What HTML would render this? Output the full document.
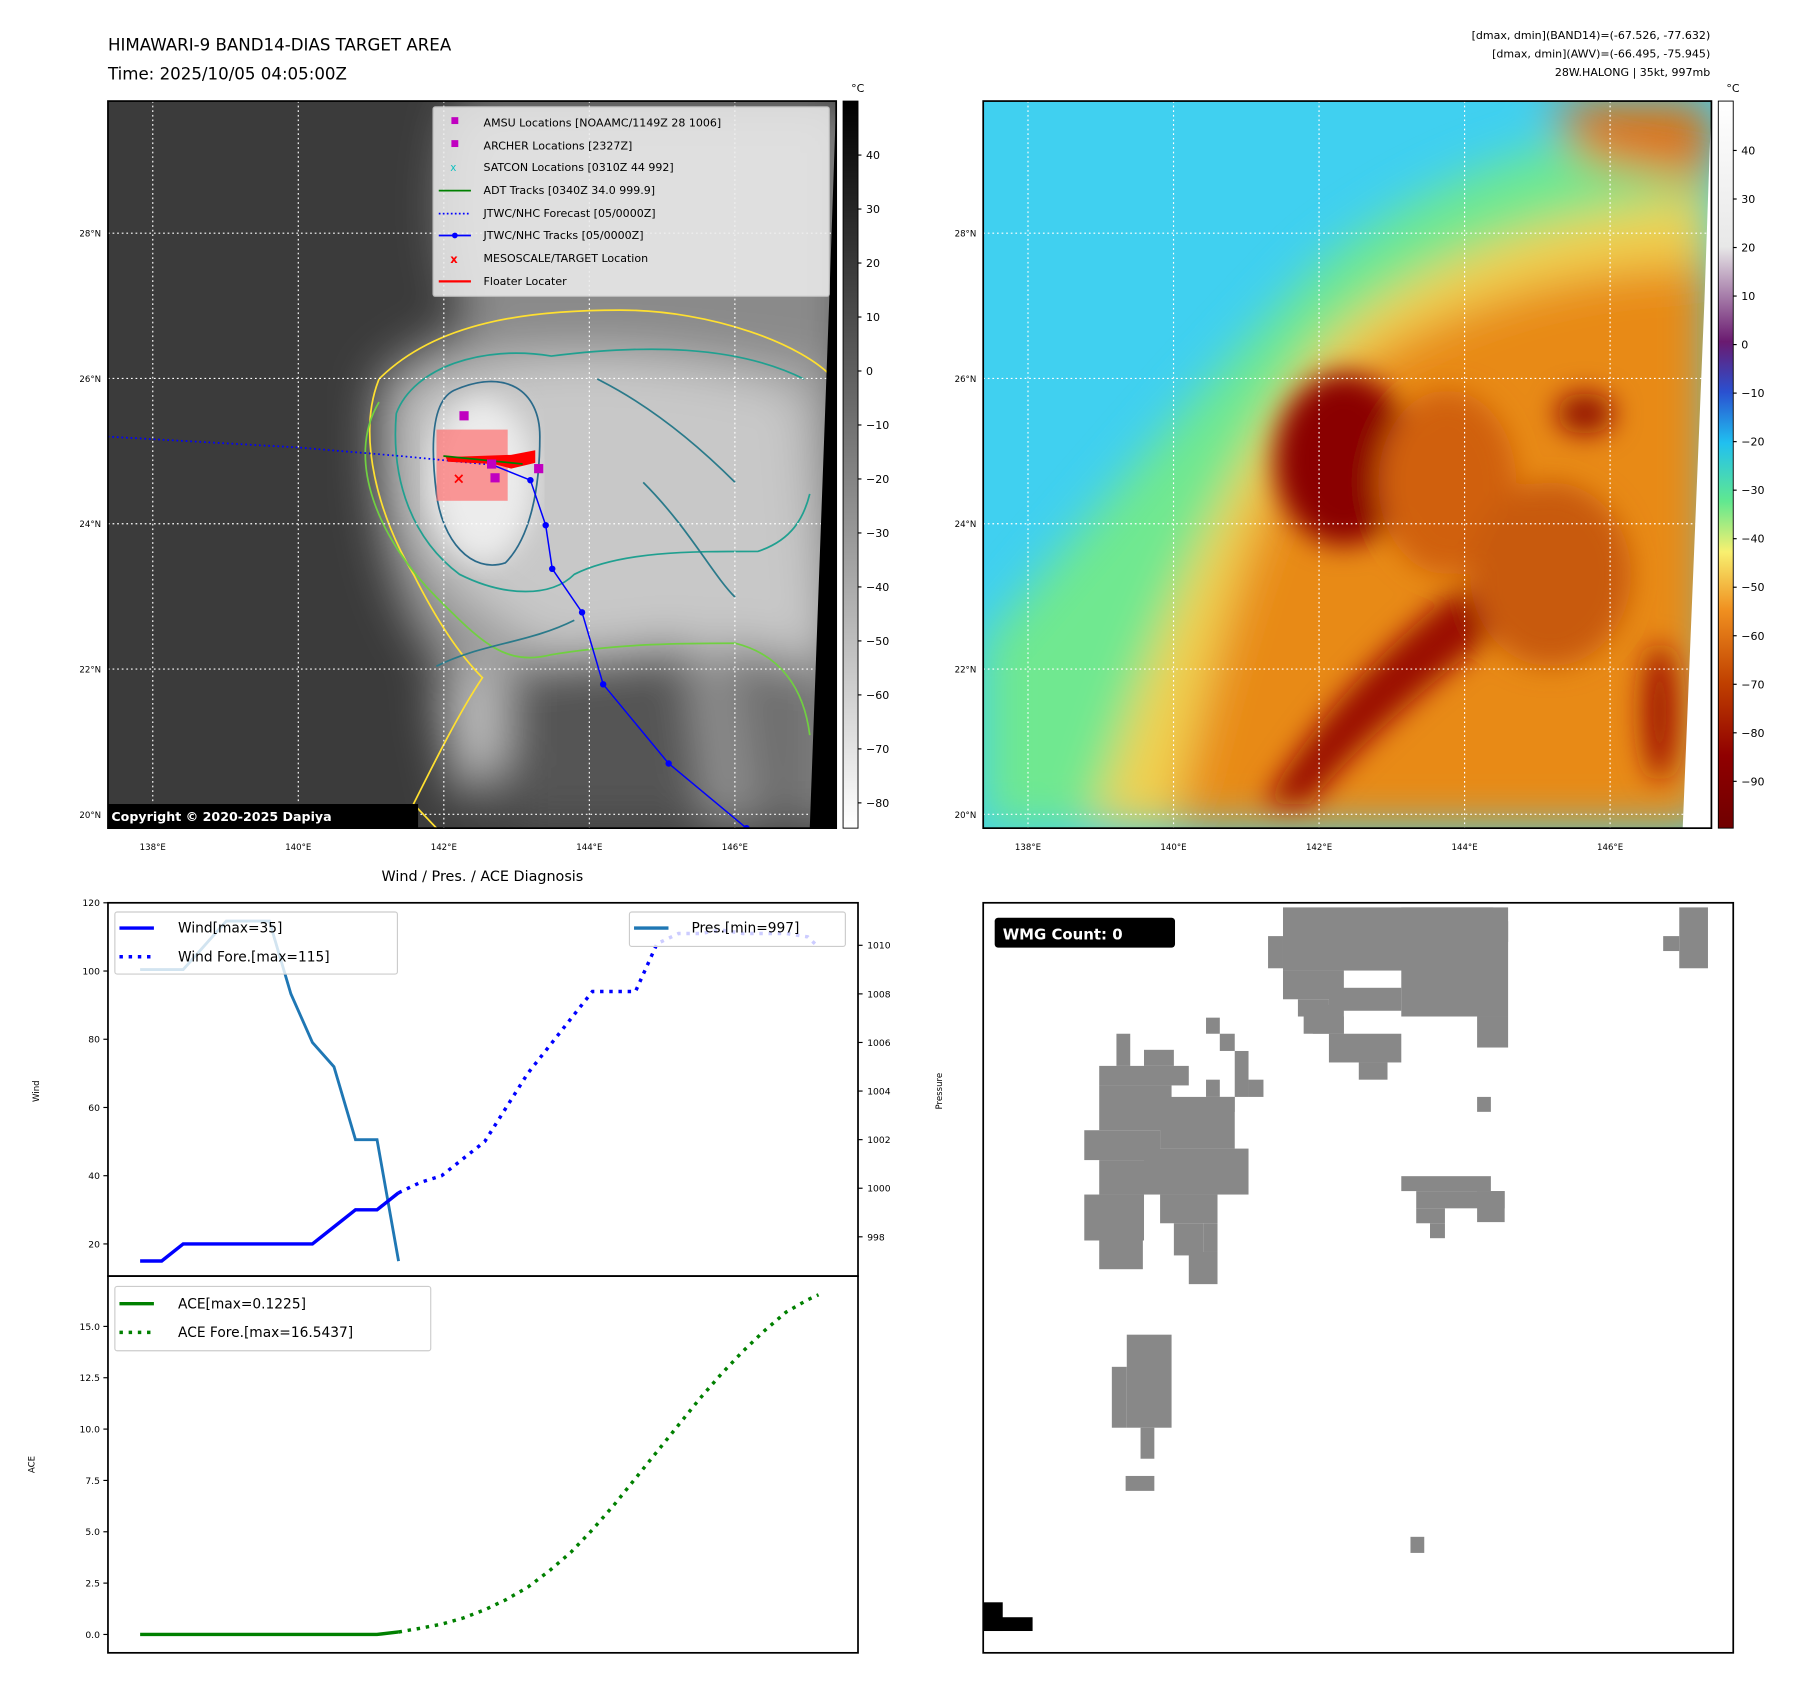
<!DOCTYPE html>
<html><head><meta charset="utf-8"><style>
html,body{margin:0;padding:0;background:#fff;}
svg{display:block;font-family:"DejaVu Sans","Liberation Sans",sans-serif;}
</style></head><body>
<svg id="root" width="1801" height="1690" viewBox="0 0 1801 1690" xmlns="http://www.w3.org/2000/svg">
<defs>
<filter id="blur12"><feGaussianBlur stdDeviation="12"/></filter>
<filter id="blur20"><feGaussianBlur stdDeviation="20"/></filter>
<linearGradient id="cbGray" x1="0" y1="0" x2="0" y2="1"><stop offset="0" stop-color="#000"/><stop offset="1" stop-color="#fff"/></linearGradient>
<linearGradient id="cbJet" x1="0" y1="0" x2="0" y2="1">
<stop offset="0" stop-color="#ffffff"/><stop offset="0.20" stop-color="#e8e8e8"/>
<stop offset="0.331" stop-color="#6a1a70"/><stop offset="0.40" stop-color="#2a50d0"/>
<stop offset="0.47" stop-color="#20c0f0"/><stop offset="0.55" stop-color="#60e890"/>
<stop offset="0.62" stop-color="#f8f070"/><stop offset="0.70" stop-color="#f09020"/>
<stop offset="0.80" stop-color="#c04000"/><stop offset="0.90" stop-color="#900000"/><stop offset="1" stop-color="#700000"/></linearGradient>
<clipPath id="clipL"><rect x="94" y="88" width="634" height="633"/></clipPath>
<clipPath id="clipR"><rect x="856" y="88" width="634" height="633"/></clipPath>
<clipPath id="clipW"><rect x="94" y="786" width="653" height="325"/></clipPath>
</defs>
<g id="main" transform="scale(1.1486)">
<text x="94" y="44" font-size="14.5" fill="#000">HIMAWARI-9 BAND14-DIAS TARGET AREA</text>
<text x="94" y="69" font-size="14.5" fill="#000">Time: 2025/10/05 04:05:00Z</text>
<g font-size="9.6" text-anchor="end" fill="#000">
<text x="1489" y="34">[dmax, dmin](BAND14)=(-67.526, -77.632)</text>
<text x="1489" y="50">[dmax, dmin](AWV)=(-66.495, -75.945)</text>
<text x="1489" y="66">28W.HALONG | 35kt, 997mb</text>
</g>

<g clip-path="url(#clipL)">
<rect x="94" y="88" width="634" height="633" fill="#3b3b3b"/>
<g filter="url(#blur20)">
<path d="M330,330 C420,250 560,260 680,300 L740,300 L740,721 L560,721 C500,650 420,640 370,560 C330,500 320,400 330,330Z" fill="#9a9a9a"/>
<path d="M400,90 L740,90 L740,320 C640,300 520,300 420,300 C380,250 380,150 400,90Z" fill="#8a8a8a"/>
<path d="M350,350 C420,300 560,300 700,340 L720,600 C640,560 580,560 520,580 C460,560 380,520 350,440Z" fill="#c8c8c8"/>
<path d="M380,600 C420,580 470,560 520,560 L470,640 L400,700Z" fill="#bbbbbb"/>
<path d="M440,580 L600,560 L620,721 L440,721Z" fill="#555"/>
<path d="M630,560 L720,580 L720,721 L650,721Z" fill="#707070"/>
</g>
<ellipse cx="420" cy="418" rx="45" ry="72" fill="#ececec" filter="url(#blur12)"/>
<g fill="none" stroke-width="1.5">
<path d="M330,330 C380,280 460,270 540,270 C620,270 700,300 726,330 M330,330 C310,380 330,450 360,500 C380,540 400,570 420,590 C400,620 380,660 360,700 L380,721" stroke="#ffe030"/>
<path d="M330,350 C300,400 330,470 380,520 C420,560 440,580 480,570 C540,560 600,560 640,560 C680,570 700,600 705,640" stroke="#70d040"/>
<path d="M345,360 C340,420 360,470 400,500 C440,520 480,520 500,500 C540,480 600,480 660,480 C690,470 700,450 705,430 M345,360 C360,320 420,300 480,310 C560,300 640,300 700,330" stroke="#20a090"/>
<path d="M395,340 C440,320 470,340 470,380 C470,430 460,470 440,490 C410,500 385,470 380,430 C375,390 375,350 395,340Z" stroke="#2a6a8a"/>
<path d="M380,580 C420,560 460,560 500,540 M520,330 C560,350 600,380 640,420 M560,420 C600,460 620,500 640,520" stroke="#2a7a8a"/>
</g>
<g stroke="#fff" stroke-width="1" stroke-dasharray="1.5,2.5" id="gridL"></g>
<rect x="380" y="374" width="62" height="62" fill="#ff7070" opacity="0.7"/>
<g id="trackL"></g>
<path d="M705,721 L722,260 L728,88 L728,721Z" fill="#000"/>
</g>
<rect x="94" y="88" width="634" height="633" fill="none" stroke="#000" stroke-width="1.5"/>
<g>
<rect x="377" y="93" width="345" height="165" fill="#eee" opacity="0.85" stroke="#ccc" rx="2"/>
<g font-size="9.6" fill="#000">
<rect x="393" y="102" width="6" height="6" fill="#c000c0"/><text x="421" y="110">AMSU Locations [NOAAMC/1149Z 28 1006]</text>
<rect x="393" y="122" width="6" height="6" fill="#c000c0"/><text x="421" y="130">ARCHER Locations [2327Z]</text>
<text x="392" y="149" fill="#10c0c0" font-size="9">x</text><text x="421" y="149">SATCON Locations [0310Z 44 992]</text>
<line x1="382" y1="166" x2="410" y2="166" stroke="#008000" stroke-width="1.5"/><text x="421" y="169">ADT Tracks [0340Z 34.0 999.9]</text>
<line x1="382" y1="186" x2="410" y2="186" stroke="#00f" stroke-width="1.5" stroke-dasharray="1.5,2"/><text x="421" y="189">JTWC/NHC Forecast [05/0000Z]</text>
<line x1="382" y1="205" x2="410" y2="205" stroke="#00f" stroke-width="1.5"/><circle cx="396" cy="205" r="2.5" fill="#00f"/><text x="421" y="208">JTWC/NHC Tracks [05/0000Z]</text>
<text x="392" y="229" fill="#f00" font-weight="bold" font-size="10">x</text><text x="421" y="228">MESOSCALE/TARGET Location</text>
<line x1="382" y1="245" x2="410" y2="245" stroke="#f00" stroke-width="2"/><text x="421" y="248">Floater Locater</text>
</g></g>
<rect x="94" y="700" width="270" height="21" fill="#000"/>
<text x="97" y="715" font-size="11" font-weight="bold" fill="#fff">Copyright © 2020-2025 Dapiya</text>
<rect x="734" y="88" width="13" height="633" fill="url(#cbGray)" stroke="#000" stroke-width="0.8"/>
<text x="741" y="80" font-size="9.6">°C</text>
<g id="cbL" font-size="9.6"></g>

<g clip-path="url(#clipR)">
<rect x="856" y="88" width="634" height="633" fill="#40d0f0"/>
<g filter="url(#blur20)">
<path d="M856,560 C950,450 1050,330 1150,230 C1250,150 1350,120 1490,100 L1490,721 L856,721Z" fill="#70e890"/>
<path d="M950,721 C1000,560 1060,420 1150,300 C1250,210 1380,180 1490,170 L1490,721Z" fill="#f0d050"/>
<path d="M1020,721 C1060,560 1090,440 1150,340 C1250,260 1380,230 1490,230 L1490,721Z" fill="#e88a18"/>
<path d="M1350,88 L1490,88 L1490,160 L1380,140Z" fill="#e07010"/>
</g>
<g filter="url(#blur12)">
<ellipse cx="1170" cy="400" rx="60" ry="75" fill="#8a0000"/>
<path d="M1100,700 C1150,620 1200,570 1260,520 C1300,500 1320,520 1290,560 C1240,600 1180,650 1140,700Z" fill="#9a1000"/>
<ellipse cx="1380" cy="360" rx="25" ry="18" fill="#900a00"/>
<ellipse cx="1445" cy="620" rx="15" ry="60" fill="#a01800"/>
<ellipse cx="1260" cy="420" rx="60" ry="80" fill="#d06010"/>
<ellipse cx="1350" cy="500" rx="70" ry="80" fill="#c85a10"/>
</g>
<g stroke="#fff" stroke-width="1" stroke-dasharray="1.5,2.5" id="gridR"></g>
<path d="M1465,721 L1484,260 L1490,88 L1490,721Z" fill="#fff"/>
</g>
<rect x="856" y="88" width="634" height="633" fill="none" stroke="#000" stroke-width="1.5"/>
<rect x="1496" y="88" width="13" height="633" fill="url(#cbJet)" stroke="#000" stroke-width="0.8"/>
<text x="1503" y="80" font-size="9.6">°C</text>
<g id="cbR" font-size="9.6"></g>
<g id="mapTicks" font-size="7.5"></g>

<text x="420" y="767" font-size="12.5" text-anchor="middle">Wind / Pres. / ACE Diagnosis</text>
<g id="windChart"></g>
<g id="aceChart"></g>

<g>
<rect x="856" y="786" width="653" height="653" fill="#fff" stroke="#000" stroke-width="1.5"/>
<g fill="#888" id="wmgCells"></g>
<rect x="856" y="1395" width="17" height="25" fill="#000"/><rect x="856" y="1408" width="43" height="12" fill="#000"/>
<rect x="866" y="799" width="157" height="26" rx="3" fill="#000"/>
<text x="873" y="818" font-size="13" font-weight="bold" fill="#fff">WMG Count: 0</text>
</g>
</g>
<script>
var NS="http://www.w3.org/2000/svg";
function mk(tag,attrs,parent,txt){var e=document.createElementNS(NS,tag);for(var k in attrs)e.setAttribute(k,attrs[k]);if(txt!==undefined)e.textContent=txt;parent.appendChild(e);return e;}
var lonTicks=[138,140,142,144,146];
var latTicks=[20,22,24,26,28];
var fcstLon=[137.38,140.0,141.43,142.67];
var fcstLat=[25.20,25.05,24.93,24.81];
var trackLon=[142.67,143.19,143.40,143.49,143.90,144.19,145.09,146.16];
var trackLat=[24.81,24.60,23.98,23.38,22.78,21.79,20.70,19.81];
var cbIrTicks=[40,30,20,10,0,-10,-20,-30,-40,-50,-60,-70,-80];
var cbEnhTicks=[40,30,20,10,0,-10,-20,-30,-40,-50,-60,-70,-80,-90];
function mapX(lon,x0){return x0+39+(lon-138)*63.35;}
function mapY(lat){return 203+(28-lat)*63.25;}
[[94,'gridL'],[856,'gridR']].forEach(function(p){
 var g=document.getElementById(p[1]);
 lonTicks.forEach(function(l){var x=mapX(l,p[0]);var e=mk('line',{x1:x,y1:88,x2:x,y2:721},g);});
 latTicks.forEach(function(l){var y=mapY(l);var e=mk('line',{x1:p[0],y1:y,x2:p[0]+634,y2:y},g);});
});
var mt=document.getElementById('mapTicks');
[94,856].forEach(function(x0){
 lonTicks.forEach(function(l){var e=mk('text',{x:mapX(l,x0),y:740,'text-anchor':'middle'},mt,l+'°E');});
 latTicks.forEach(function(l){var e=mk('text',{x:x0-6,y:mapY(l)+3,'text-anchor':'end'},mt,l+'°N');});
});
var tg=document.getElementById('trackL');
var fp=fcstLon.map(function(l,i){return mapX(l,94)+','+mapY(fcstLat[i]);}).join(' ');
var fl=mk('polyline',{points:fp,fill:'none',stroke:'#00f','stroke-width':1.5,'stroke-dasharray':'1.5,2.5'},tg);

var tp=trackLon.map(function(l,i){return mapX(l,94)+','+mapY(trackLat[i]);}).join(' ');
var tl=mk('polyline',{points:tp,fill:'none',stroke:'#00f','stroke-width':1.3},tg);

trackLon.forEach(function(l,i){if(i<1)return;var c=mk('circle',{cx:mapX(l,94),cy:mapY(trackLat[i]),r:2.8,fill:'#00f'},tg);});
var fz=mk('path',{d:'M388,398 L445,396 L466,392 L466,403 L445,408 L430,404 L390,402Z',fill:'#f00'},tg);

mk('line',{x1:386,y1:397,x2:455,y2:404,stroke:'#008000','stroke-width':1.5},tg);
[[404,362],[431,416],[469,408],[428,404]].forEach(function(p){var r=mk('rect',{x:p[0]-4,y:p[1]-4,width:8,height:8,fill:'#c000c0'},tg);});
var xm=mk('text',{x:394,y:421,fill:'#f00','font-size':13,'font-weight':'bold'},tg,'×');
function cb(id,x,ticks,y0,step){var g=document.getElementById(id);ticks.forEach(function(t,i){var y=y0+i*step;mk('line',{x1:x+13,y1:y,x2:x+16,y2:y,stroke:'#000'},g);var e=mk('text',{x:x+20,y:y+3.5},g,t<0?'\u2212'+(-t):''+t);});}
cb('cbL',734,cbIrTicks,135,47);
cb('cbR',1496,cbEnhTicks,131,42.25);

var windIdx=[0,1,2,3,4,5,6,7,8,9,10,11,12];
var windObs=[15,15,20,20,20,20,20,20,20,25,30,30,35];
var foreIdx=[12,13,14,15,16,17,18,19,20,21,22,23,24,25,26,27,28,29,30,31,31.5];
var windFore=[35,38,40,45,50,60,70,78,86,94,94,94,108,111,111,112,111,111,111,110,107];
var presIdx=[0,1,2,3,4,5,6,7,8,9,10,11,12];
var presObs=[1009,1009,1009,1010,1011,1011,1011,1008,1006,1005,1002,1002,997];
var windTicks=[20,40,60,80,100,120];
var presTicks=[998,1000,1002,1004,1006,1008,1010];
var aceIdx=[0,1,2,3,4,5,6,7,8,9,10,11,12];
var aceObs=[0,0,0,0,0,0,0,0,0,0,0,0,0.1225];
var aceForeIdx=[12,13,14,15,16,17,18,19,20,21,22,23,24,25,26,27,28,29,30,31,31.5];
var aceFore=[0.12,0.3,0.5,0.8,1.2,1.7,2.3,3.1,4.0,5.1,6.3,7.6,8.9,10.2,11.5,12.7,13.8,14.8,15.7,16.3,16.54];
var aceTicks=[0,2.5,5,7.5,10,12.5,15];
var aceTickLabels=['0.0','2.5','5.0','7.5','10.0','12.5','15.0'];

function xI(i){return 122+i*18.75;}
function yW(v){return 1083-(v-20)*2.97;}
function yP(v){return 823+(1010-v)*21.15;}
function yA(v){return 1423-v*17.88;}
function line(g,idx,vals,yf,attrs,name){var pts=idx.map(function(ix,k){return xI(ix)+','+yf(vals[k]);}).join(' ');attrs.points=pts;attrs.fill='none';var e=mk('polyline',attrs,g);return e;}

var wc=document.getElementById('windChart');
mk('rect',{x:94,y:786,width:653,height:325,fill:'#fff',stroke:'#000','stroke-width':1.5},wc);
var wclip=mk('g',{'clip-path':'url(#clipW)'},wc);
line(wclip,presIdx,presObs,yP,{stroke:'#1f77b4','stroke-width':2.5},'pressure-line');
line(wclip,windIdx,windObs,yW,{stroke:'#00f','stroke-width':3},'wind-line');
line(wclip,foreIdx,windFore,yW,{stroke:'#00f','stroke-width':3,'stroke-dasharray':'3,5'},'wind-forecast-line');
windTicks.forEach(function(t){var y=yW(t);mk('line',{x1:90,y1:y,x2:94,y2:y,stroke:'#000'},wc);var e=mk('text',{x:87,y:y+3,'font-size':8,'text-anchor':'end'},wc,''+t);});
presTicks.forEach(function(t){var y=yP(t);mk('line',{x1:747,y1:y,x2:751,y2:y,stroke:'#000'},wc);var e=mk('text',{x:755,y:y+3,'font-size':8},wc,''+t);});
var wl=mk('text',{x:34,y:950,'font-size':7.5,'text-anchor':'middle',transform:'rotate(-90 34 950)'},wc,'Wind');
var pl=mk('text',{x:820,y:950,'font-size':7.5,'text-anchor':'middle',transform:'rotate(-90 820 950)'},wc,'Pressure');
var lg=mk('g',{},wc);
mk('rect',{x:100,y:794,width:246,height:54,fill:'#fff','fill-opacity':0.8,stroke:'#ccc',rx:2},lg);
mk('line',{x1:104,y1:808,x2:134,y2:808,stroke:'#00f','stroke-width':3},lg);
mk('text',{x:155,y:812,'font-size':12},lg,'Wind[max=35]');
mk('line',{x1:104,y1:833,x2:134,y2:833,stroke:'#00f','stroke-width':3,'stroke-dasharray':'3,5'},lg);
mk('text',{x:155,y:837,'font-size':12},lg,'Wind Fore.[max=115]');
var lp=mk('g',{},wc);
mk('rect',{x:548,y:794,width:188,height:30,fill:'#fff','fill-opacity':0.8,stroke:'#ccc',rx:2},lp);
mk('line',{x1:552,y1:808,x2:582,y2:808,stroke:'#1f77b4','stroke-width':3},lp);
mk('text',{x:602,y:812,'font-size':12},lp,'Pres.[min=997]');

var ac=document.getElementById('aceChart');
mk('rect',{x:94,y:1111,width:653,height:328,fill:'none',stroke:'#000','stroke-width':1.5},ac);
line(ac,aceIdx,aceObs,yA,{stroke:'#008000','stroke-width':3},'ace-line');
line(ac,aceForeIdx,aceFore,yA,{stroke:'#008000','stroke-width':3,'stroke-dasharray':'3,5'},'ace-forecast-line');
aceTicks.forEach(function(t,i){var y=yA(t);mk('line',{x1:90,y1:y,x2:94,y2:y,stroke:'#000'},ac);var e=mk('text',{x:87,y:y+3,'font-size':8,'text-anchor':'end'},ac,aceTickLabels[i]);});
var al=mk('text',{x:30,y:1275,'font-size':7.5,'text-anchor':'middle',transform:'rotate(-90 30 1275)'},ac,'ACE');
var la=mk('g',{},ac);
mk('rect',{x:100,y:1120,width:275,height:56,fill:'#fff','fill-opacity':0.8,stroke:'#ccc',rx:2},la);
mk('line',{x1:104,y1:1135,x2:134,y2:1135,stroke:'#008000','stroke-width':3},la);
mk('text',{x:155,y:1139,'font-size':12},la,'ACE[max=0.1225]');
mk('line',{x1:104,y1:1160,x2:134,y2:1160,stroke:'#008000','stroke-width':3,'stroke-dasharray':'3,5'},la);
mk('text',{x:155,y:1164,'font-size':12},la,'ACE Fore.[max=16.5437]');

var cells=[[1117,790,1300,845],[1104,815,1117,843],[1117,845,1170,870],[1130,870,1157,885],[1143,885,1170,900],[1157,900,1220,925],[1183,925,1208,940],[1220,790,1313,885],[1286,885,1313,912],[1300,802,1313,820],
[1135,875,1170,900],[1157,860,1220,880],
[972,900,984,928],[957,928,1035,945],[957,945,1020,984],[944,984,1010,1010],[957,1010,996,1040],[944,1040,996,1080],[957,1080,995,1105],[996,914,1022,928],[1010,955,1075,1000],[996,1000,1087,1040],[1010,1040,1060,1065],[1022,1065,1048,1093],[1035,1090,1060,1118],[1048,1065,1060,1090],
[1050,886,1062,900],[1062,900,1075,915],[1075,915,1087,955],[1087,940,1100,955],[1050,940,1062,955],[1062,955,1075,968],
[981,1162,1020,1243],[968,1190,981,1243],[993,1243,1005,1270],[980,1285,1005,1298],
[1220,1024,1298,1037],[1233,1037,1310,1052],[1233,1052,1258,1065],[1245,1065,1258,1078],[1286,1037,1310,1064],
[1462,790,1487,843],[1448,815,1462,828],[1228,1338,1240,1352],[1286,955,1298,968]];
var wg=document.getElementById('wmgCells');
cells.forEach(function(c){var r=mk('rect',{x:c[0],y:c[1],width:c[2]-c[0],height:c[3]-c[1]},wg);});
</script>
</svg>
</body></html>
